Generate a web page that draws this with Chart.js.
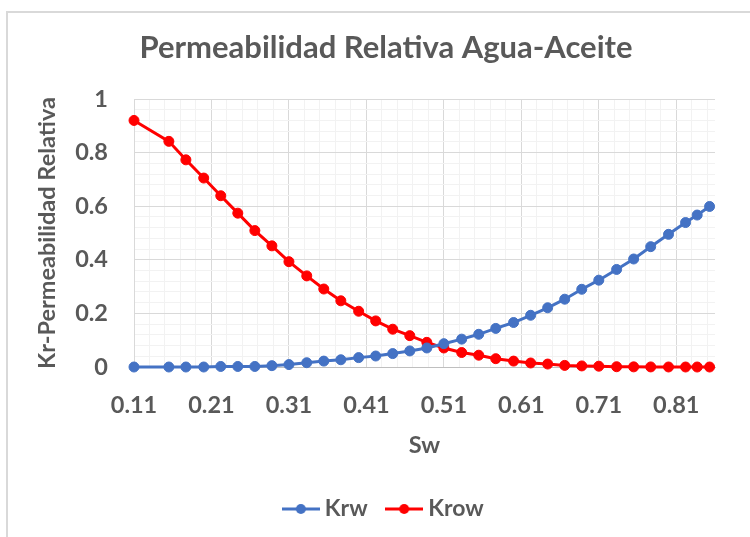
<!DOCTYPE html>
<html>
<head>
<meta charset="utf-8">
<title>Permeabilidad Relativa Agua-Aceite</title>
<script src="https://cdn.jsdelivr.net/npm/chart.js@4.4.0/dist/chart.umd.min.js"></script>
<style>
  html, body { margin: 0; padding: 0; background: #fff; overflow: hidden; }
  #frame { position: absolute; left: 6px; top: 11px; width: 800px; height: 600px;
           border-left: 2px solid #d9d9d9; border-top: 2px solid #d9d9d9; }
  #chart { position: absolute; left: 0; top: 0; }
</style>
</head>
<body>
<div id="frame"></div>
<canvas id="chart" width="750" height="537"></canvas>
<script>
// Sw (x) and relative permeabilities
const swValues = [0.11, 0.155, 0.177, 0.2, 0.222, 0.244, 0.266, 0.288, 0.31, 0.333, 0.355, 0.377,
    0.4, 0.422, 0.444, 0.466, 0.488, 0.51, 0.533, 0.555, 0.577, 0.6, 0.622, 0.644, 0.666, 0.688,
    0.71, 0.733, 0.755, 0.777, 0.8, 0.822, 0.837, 0.853];
const krwValues = [0, 0, 0, 0, 0.002, 0.002, 0.002, 0.005, 0.009, 0.016, 0.022, 0.027,
    0.035, 0.041, 0.05, 0.06, 0.071, 0.087, 0.104, 0.122, 0.144, 0.166, 0.193, 0.221, 0.253, 0.29,
    0.324, 0.364, 0.403, 0.449, 0.495, 0.539, 0.567, 0.599];
const krowValues = [0.92, 0.842, 0.773, 0.705, 0.639, 0.574, 0.509, 0.452, 0.393, 0.34, 0.291, 0.247,
    0.208, 0.172, 0.141, 0.117, 0.092, 0.071, 0.054, 0.044, 0.031, 0.022, 0.015, 0.011, 0.006, 0.004,
    0.003, 0.001, 0.0005, 0.0003, 0.0001, 0, 0, 0];
const xTickLabels = ['0.11', '0.21', '0.31', '0.41', '0.51', '0.61', '0.71', '0.81'];
const yTickLabels = ['0', '0.2', '0.4', '0.6', '0.8', '1'];

const textColor = '#595959';
const majorGrid = '#d9d9d9';
const minorGrid = '#f2f2f2';
const fontFamily = 'Lato, "Open Sans", sans-serif';
const blue = '#4472c4';
const red = '#ff0000';

function legendMarker(color) {
    const c = document.createElement('canvas');
    c.width = 38;
    c.height = 12;
    const g = c.getContext('2d');
    g.strokeStyle = color;
    g.lineWidth = 3;
    g.beginPath();
    g.moveTo(0, 6);
    g.lineTo(38, 6);
    g.stroke();
    g.fillStyle = color;
    g.beginPath();
    g.arc(19, 6, 5, 0, Math.PI * 2);
    g.fill();
    return c;
}
const markers = [legendMarker(blue), legendMarker(red)];

function series(ys) {
    return swValues.map((x, i) => ({ x: x, y: ys[i] }));
}

const ctx = document.getElementById('chart').getContext('2d');
new Chart(ctx, {
    type: 'scatter',
    data: {
        datasets: [{
            label: 'Krw',
            data: series(krwValues),
            showLine: true,
            borderColor: blue,
            backgroundColor: blue,
            borderWidth: 3,
            pointRadius: 5,
            pointBorderWidth: 1,
            clip: false
        }, {
            label: 'Krow',
            data: series(krowValues),
            showLine: true,
            borderColor: red,
            backgroundColor: red,
            borderWidth: 3,
            pointRadius: 5,
            pointBorderWidth: 1,
            clip: false
        }]
    },
    options: {
        responsive: false,
        animation: false,
        layout: { padding: { left: 57, right: 35, top: 0, bottom: 6.5 } },
        plugins: {
            title: {
                display: true,
                text: 'Permeabilidad Relativa Agua-Aceite',
                color: textColor,
                font: { family: fontFamily, size: 31, weight: 'bold' },
                padding: { top: 29.4, bottom: 32.4 }
            },
            legend: {
                position: 'bottom',
                labels: {
                    usePointStyle: true,
                    pointStyleWidth: 25,
                    padding: 24,
                    color: textColor,
                    font: { family: fontFamily, size: 23, weight: 'bold' },
                    generateLabels: chart => Chart.defaults.plugins.legend.labels.generateLabels(chart)
                        .map((item, i) => Object.assign(item, { pointStyle: markers[i] }))
                }
            },
            tooltip: { enabled: false }
        },
        scales: {
            x: {
                type: 'linear',
                min: 0.11,
                max: 0.86,
                afterBuildTicks: scale => {
                    const ticks = [];
                    for (let i = 0; i <= 37; i++) ticks.push({ value: +(0.11 + i * 0.02).toFixed(2) });
                    scale.ticks = ticks;
                },
                afterFit: scale => { scale.height = 106.5; },
                ticks: {
                    autoSkip: false,
                    maxRotation: 0,
                    padding: 24,
                    color: textColor,
                    font: { family: fontFamily, size: 23.5, weight: 'bold' },
                    callback: (v, i) => i % 5 === 0 ? xTickLabels[i / 5] : ''
                },
                grid: {
                    drawTicks: false,
                    color: c => c.index % 5 === 0 ? majorGrid : minorGrid,
                    lineWidth: 1
                },
                border: { color: '#bfbfbf', width: 1 },
                title: {
                    display: true,
                    text: 'Sw',
                    color: textColor,
                    font: { family: fontFamily, size: 23.5, weight: 'bold' },
                    padding: { top: 4, bottom: 14 }
                }
            },
            y: {
                min: 0,
                max: 1,
                afterBuildTicks: scale => {
                    scale.ticks = Array.from({ length: 26 }, (_, i) => ({ value: +(i * 0.04).toFixed(2) }));
                },
                afterFit: scale => { scale.width = 77; },
                ticks: {
                    autoSkip: false,
                    padding: 26,
                    color: textColor,
                    font: { family: fontFamily, size: 23.5, weight: 'bold' },
                    callback: (v, i) => i % 5 === 0 ? yTickLabels[i / 5] : ''
                },
                grid: {
                    drawTicks: false,
                    color: c => c.index % 5 === 0 ? majorGrid : minorGrid,
                    lineWidth: 1
                },
                border: { color: majorGrid, width: 1 },
                title: {
                    display: true,
                    text: 'Kr-Permeabilidad Relativa',
                    color: textColor,
                    font: { family: fontFamily, size: 23.5, weight: 'bold' },
                    padding: { top: -24, bottom: 0 }
                }
            }
        }
    }
});
</script>
</body>
</html>
